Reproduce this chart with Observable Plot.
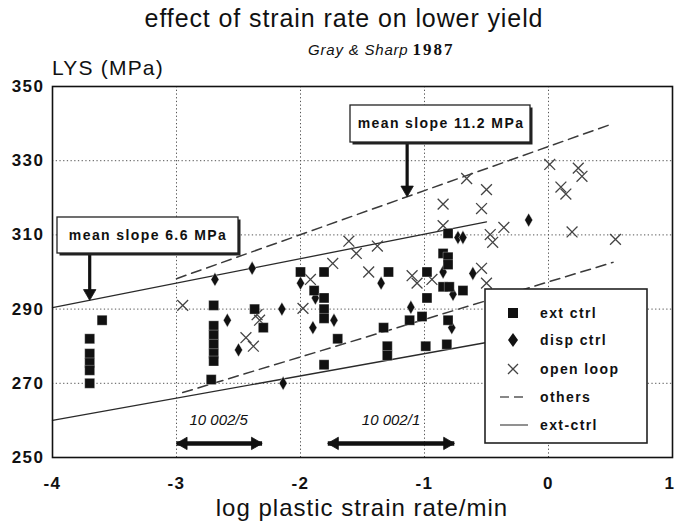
<!DOCTYPE html>
<html>
<head>
<meta charset="utf-8">
<script src="https://cdn.jsdelivr.net/npm/d3@7"></script>
<script src="https://cdn.jsdelivr.net/npm/@observablehq/plot@0.6"></script>
<style>
  body { margin: 0; background: white; }
  #wrap { position: relative; width: 675px; height: 524px; font-family: "Liberation Sans", Arial, sans-serif; }
  #wrap > svg { position: absolute; left: 0; top: 0; }
  g[aria-label="y-axis tick label"] text, g[aria-label="x-axis tick label"] text { letter-spacing: 1.5px; }
</style>
</head>
<body>
<div id="wrap"></div>
<script>
// ---- data ----
const xTicks = [-4, -3, -2, -1, 0];
const xTickLast = [1];
const yTicks = [250, 270, 290, 310, 330, 350];
const gridXTicks = [-3, -2, -1, 0];
const gridYTicks = [270, 290, 310, 330];

// ext ctrl (filled squares): [log rate, LYS]
const extCtrl = [
  [-3.70, 282], [-3.70, 278], [-3.70, 275.5], [-3.70, 273.5], [-3.70, 270], [-3.60, 287],
  [-2.70, 291], [-2.70, 285.5], [-2.70, 283], [-2.70, 280.5], [-2.70, 278], [-2.70, 276], [-2.72, 271],
  [-2.37, 290], [-2.30, 285],
  [-2.00, 300], [-1.81, 300], [-1.89, 295], [-1.81, 293], [-1.81, 290], [-1.81, 287.5], [-1.81, 275], [-1.70, 282],
  [-1.29, 300], [-1.33, 285], [-1.30, 280], [-1.30, 277.5],
  [-0.98, 300], [-0.98, 293], [-0.99, 280], [-1.02, 288], [-1.12, 287],
  [-0.81, 310.4], [-0.85, 305], [-0.81, 304], [-0.81, 302], [-0.85, 296], [-0.80, 296], [-0.69, 295], [-0.81, 287], [-0.82, 280.5]
];
// disp ctrl (filled diamonds)
const dispCtrl = [
  [-2.69, 298], [-2.59, 287], [-2.50, 279], [-2.39, 301], [-2.15, 290], [-2.14, 270],
  [-2.00, 297], [-1.90, 285], [-1.88, 293], [-1.73, 287], [-1.35, 297], [-1.11, 290.5],
  [-0.77, 294], [-0.78, 285], [-0.61, 299.6], [-0.16, 314], [-0.85, 300], [-0.73, 309.3], [-0.69, 309.3]
];
// open loop (crosses)
const openLoop = [
  [-2.95, 291], [-2.44, 282.3], [-2.38, 280], [-2.35, 288.5], [-2.33, 287], [-1.98, 290.2],
  [-1.92, 298], [-1.74, 302.3], [-1.61, 308.3], [-1.55, 305], [-1.38, 307], [-1.45, 300],
  [-1.10, 299], [-1.06, 297], [-0.94, 298], [-0.85, 318.3], [-0.85, 312.5], [-0.66, 325.2],
  [-0.50, 322.2], [-0.54, 317.1], [-0.47, 310.1], [-0.36, 312], [-0.45, 308], [-0.54, 301],
  [-0.50, 297], [0.01, 329], [0.24, 328], [0.27, 325.8], [0.10, 322.9], [0.14, 321],
  [0.19, 310.8], [0.54, 308.8]
];
// fitted band lines (end points)
const extFitUpper = [[-4, 290.4], [-0.5, 313.5]];
const extFitLower = [[-4, 260], [-0.5, 281]];
const othersUpper = [[-3, 298.2], [0.52, 340]];
const othersLower = [[-2.95, 267.5], [0.52, 302.6]];
// annotation arrows (pointing down at the lines)
const slopeArrows = [
  {x: -3.70, y1: 303.6, y2: 292.4},
  {x: -1.14, y1: 334.1, y2: 320.3}
];
// rate ranges of specimens
const rateRanges = [
  {label: "10 002/5", x1: -3.00, x2: -2.31, y: 253.8, tx: -2.66, ty: 258.8},
  {label: "10 002/1", x1: -1.78, x2: -0.76, y: 253.8, tx: -1.27, ty: 258.8}
];

const rows = arr => arr.map(([x, y]) => ({x, y}));

const lineStyleSolid = {x: "x", y: "y", stroke: "#2a2a2a", strokeWidth: 1.3};
const lineStyleDash = {x: "x", y: "y", stroke: "#3a3a3a", strokeWidth: 1.5, strokeDasharray: "10,6"};

const downHeads = slopeArrows.map(a => ({x: a.x, y: a.y2}));
const leftHeads = rateRanges.map(r => ({x: r.x1, y: r.y}));
const rightHeads = rateRanges.map(r => ({x: r.x2, y: r.y}));
const headStyle = {x: "x", y: "y", symbol: "triangle", r: 4.6, fill: "#111", stroke: "#111", strokeWidth: 0.8};
const apex = 7.0;

const plot = Plot.plot({
  width: 675, height: 524,
  marginTop: 86, marginBottom: 67, marginLeft: 52, marginRight: 3,
  x: {domain: [-4, 1], label: null},
  y: {domain: [250, 350], label: null},
  style: {fontFamily: "'Liberation Sans', Arial, sans-serif", color: "#111", background: "transparent"},
  marks: [
    Plot.gridX(gridXTicks, {stroke: "#555", strokeOpacity: 1, strokeWidth: 1, strokeDasharray: "1.3,2.4"}),
    Plot.gridY(gridYTicks, {stroke: "#555", strokeOpacity: 1, strokeWidth: 1, strokeDasharray: "1.3,2.4"}),
    Plot.axisX(xTicks, {tickSize: 0, tickPadding: 19, fontSize: 17, fontWeight: "bold", tickFormat: d => String(d)}),
    Plot.axisX(xTickLast, {tickSize: 0, tickPadding: 19, fontSize: 17, fontWeight: "bold", textAnchor: "end", dx: 3, tickFormat: d => String(d)}),
    Plot.axisY(yTicks, {tickSize: 0, tickPadding: 8, fontSize: 17, fontWeight: "bold", tickFormat: d => String(d)}),
    Plot.line(rows(othersUpper), lineStyleDash),
    Plot.line(rows(othersLower), lineStyleDash),
    Plot.line(rows(extFitUpper), lineStyleSolid),
    Plot.line(rows(extFitLower), lineStyleSolid),
    Plot.dot(rows(openLoop), {x: "x", y: "y", symbol: "times", r: 5, stroke: "#444", strokeWidth: 1.3}),
    Plot.dot(rows(dispCtrl), {x: "x", y: "y", symbol: "diamond", r: 4.2, fill: "#111", stroke: "#fff", strokeWidth: 0.4}),
    Plot.dot(rows(extCtrl), {x: "x", y: "y", symbol: "square", r: 5.6, fill: "#111", stroke: "#fff", strokeWidth: 0.3}),
    Plot.link(slopeArrows, {x1: "x", x2: "x", y1: "y1", y2: "y2", dy: -4, stroke: "#111", strokeWidth: 3.2, strokeLinecap: "butt"}),
    Plot.link(rateRanges, {x1: "x1", x2: "x2", y1: "y", y2: "y", stroke: "#111", strokeWidth: 4.5, strokeLinecap: "butt"}),
    Plot.dot(downHeads, {...headStyle, rotate: 180, dy: -apex}),
    Plot.dot(leftHeads, {...headStyle, rotate: -90, dx: apex}),
    Plot.dot(rightHeads, {...headStyle, rotate: 90, dx: -apex}),
    Plot.text(rateRanges, {x: "tx", y: "ty", text: "label", fontSize: 15, fontStyle: "italic", fill: "#111", lineAnchor: "bottom"}),
    Plot.frame({stroke: "#111", strokeWidth: 1.6})
  ]
});
const wrap = document.getElementById("wrap");
wrap.appendChild(plot);

// overlay: titles, annotation boxes, legend
const ns = "http://www.w3.org/2000/svg";
const ov = document.createElementNS(ns, "svg");
ov.setAttribute("width", 675); ov.setAttribute("height", 524);
ov.style.pointerEvents = "none";
ov.style.fontFamily = "'Liberation Sans', Arial, sans-serif";
ov.innerHTML = `
  <text x="344" y="27" text-anchor="middle" font-size="25" letter-spacing="0.9" fill="#111">effect of strain rate on lower yield</text>
  <text x="308" y="55" fill="#111"><tspan font-style="italic" font-size="15" letter-spacing="0.8">Gray &amp; Sharp</tspan><tspan dx="4" font-family="'Liberation Serif', serif" font-size="17" font-weight="bold" letter-spacing="2">1987</tspan></text>
  <text x="52" y="75" font-size="21" letter-spacing="1.2" fill="#111">LYS (MPa)</text>
  <text x="362" y="516" text-anchor="middle" font-size="24" letter-spacing="1" fill="#111">log plastic strain rate/min</text>

  <rect x="59.5" y="219.5" width="181" height="36" fill="#222"/>
  <rect x="57" y="217" width="181" height="36" fill="#fff" stroke="#222" stroke-width="1.3"/>
  <text x="148" y="240" text-anchor="middle" font-size="14" font-weight="bold" letter-spacing="1.4" fill="#111">mean slope 6.6 MPa</text>

  <rect x="352.5" y="107.5" width="180" height="37" fill="#222"/>
  <rect x="350" y="105" width="180" height="37" fill="#fff" stroke="#222" stroke-width="1.3"/>
  <text x="441" y="128" text-anchor="middle" font-size="14" font-weight="bold" letter-spacing="1.4" fill="#111">mean slope 11.2 MPa</text>

  <rect x="485" y="289" width="162" height="154" fill="#fff" stroke="#222" stroke-width="1.6"/>
  <rect x="508" y="308" width="10" height="10" fill="#111"/>
  <path d="M513,333 L518,340 L513,347 L508,340 Z" fill="#111"/>
  <path d="M508,364 L518,374 M508,374 L518,364" stroke="#444" stroke-width="1.3"/>
  <line x1="500" x2="528" y1="397" y2="397" stroke="#555" stroke-width="1.4" stroke-dasharray="9,5"/>
  <line x1="500" x2="528" y1="425" y2="425" stroke="#555" stroke-width="1.3"/>
  <g font-size="14" font-weight="bold" letter-spacing="1.4" fill="#111">
    <text x="540" y="318">ext ctrl</text>
    <text x="540" y="345">disp ctrl</text>
    <text x="540" y="374">open loop</text>
    <text x="540" y="402">others</text>
    <text x="540" y="430">ext-ctrl</text>
  </g>`;
wrap.appendChild(ov);
</script>
</body>
</html>
